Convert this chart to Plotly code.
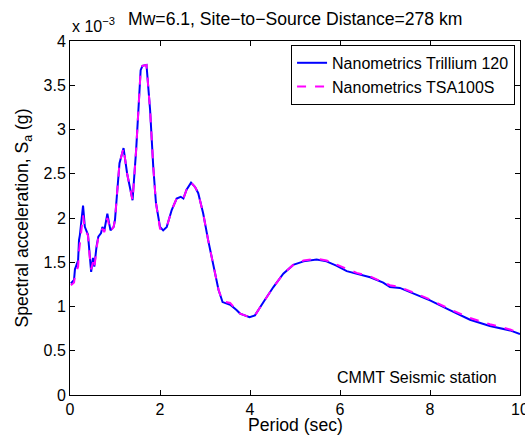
import plotly.graph_objects as go

period = [0.02, 0.09, 0.11, 0.15, 0.18, 0.20, 0.22, 0.29, 0.33, 0.40, 0.44, 0.47, 0.51, 0.54,
          0.59, 0.63, 0.69, 0.72, 0.76, 0.83, 0.87, 0.90, 0.97, 1.00, 1.04, 1.10, 1.19, 1.27,
          1.39, 1.47, 1.57, 1.61, 1.70, 1.78, 1.85, 1.91, 2.00, 2.07, 2.15, 2.26, 2.37, 2.46,
          2.52, 2.59, 2.69, 2.78, 2.85, 2.96, 3.07, 3.19, 3.30, 3.39, 3.56, 3.70, 3.78, 3.99,
          4.11, 4.30, 4.52, 4.74, 4.96, 5.19, 5.48, 5.70, 5.93, 6.15, 6.37, 6.67, 6.96, 7.11,
          7.33, 7.56, 8.00, 8.44, 8.89, 9.33, 9.78, 10.0]

# Spectral acceleration in units of 1e-3 g
trillium = [1.26, 1.30, 1.42, 1.47, 1.52, 1.75, 1.81, 2.14, 1.90, 1.81, 1.56, 1.39, 1.55, 1.45,
            1.68, 1.79, 1.83, 1.90, 1.85, 2.05, 1.94, 1.86, 1.90, 1.98, 2.24, 2.62, 2.79, 2.50,
            2.20, 2.77, 3.67, 3.72, 3.73, 3.22, 2.58, 2.17, 1.90, 1.86, 1.90, 2.09, 2.22, 2.24,
            2.22, 2.32, 2.40, 2.35, 2.28, 2.05, 1.75, 1.45, 1.19, 1.05, 1.02, 0.96, 0.92, 0.88,
            0.90, 1.05, 1.22, 1.37, 1.47, 1.51, 1.53, 1.51, 1.46, 1.40, 1.37, 1.33, 1.27, 1.22,
            1.21, 1.16, 1.07, 0.96, 0.85, 0.78, 0.73, 0.69]

tsa100s = [1.24, 1.27, 1.35, 1.40, 1.45, 1.62, 1.70, 2.03, 1.88, 1.80, 1.55, 1.42, 1.50, 1.43,
           1.66, 1.78, 1.83, 1.88, 1.84, 2.00, 1.92, 1.85, 1.90, 1.98, 2.24, 2.62, 2.79, 2.50,
           2.20, 2.77, 3.67, 3.72, 3.73, 3.22, 2.58, 2.17, 1.88, 1.87, 1.90, 2.09, 2.22, 2.24,
           2.22, 2.32, 2.40, 2.35, 2.28, 2.05, 1.75, 1.45, 1.19, 1.06, 1.04, 0.96, 0.92, 0.88,
           0.90, 1.05, 1.22, 1.37, 1.47, 1.52, 1.54, 1.52, 1.47, 1.42, 1.38, 1.34, 1.28, 1.24,
           1.22, 1.17, 1.08, 0.97, 0.87, 0.80, 0.74, 0.70]

x_ticks = [0, 2, 4, 6, 8, 10]
y_ticks = [0, 0.5, 1, 1.5, 2, 2.5, 3, 3.5, 4]
y_tick_labels = ["0", "0.5", "1", "1.5", "2", "2.5", "3", "3.5", "4"]

FONT = "Liberation Sans, Arial, sans-serif"

fig = go.Figure()
fig.add_trace(go.Scatter(x=period, y=trillium, mode="lines", name="Nanometrics Trillium 120",
                         line=dict(color="#0000FF", width=2)))
fig.add_trace(go.Scatter(x=period, y=tsa100s, mode="lines", name="Nanometrics TSA100S",
                         line=dict(color="#FF00FF", width=2, dash="dash")))

axis_common = dict(showline=True, linecolor="black", linewidth=1, mirror="ticks",
                   ticks="inside", ticklen=5, tickcolor="black", showgrid=False,
                   zeroline=False, automargin=False, ticklabeloverflow="allow",
                   tickfont=dict(family=FONT, size=16, color="black"))

fig.update_layout(
    width=525, height=435,
    margin=dict(l=70, r=5, t=41, b=40),
    paper_bgcolor="white", plot_bgcolor="white",
    font=dict(family=FONT, size=16, color="black"),
    showlegend=True,
    legend=dict(x=0.989, y=0.989, xanchor="right", yanchor="top",
                bgcolor="white", bordercolor="black", borderwidth=1,
                font=dict(family=FONT, size=16), tracegroupgap=0,
                itemwidth=30),
    xaxis=dict(range=[0, 10], tickvals=x_ticks, **axis_common),
    yaxis=dict(range=[0, 4], tickvals=y_ticks, ticktext=y_tick_labels, **axis_common,
               title=dict(text="Spectral acceleration, S<sub>a</sub> (g)", font=dict(size=17.6), standoff=10)),
    annotations=[
        dict(text="Mw=6.1, Site\u2212to\u2212Source Distance=278 km", xref="paper", yref="paper",
             x=0.5, y=1.0, yshift=10, xanchor="center", yanchor="bottom", showarrow=False,
             font=dict(family=FONT, size=17.6)),
        dict(text="x 10<sup>\u22123</sup>", xref="paper", yref="paper", x=0.0, y=1.0,
             xanchor="left", yanchor="bottom", showarrow=False, yshift=4,
             font=dict(family=FONT, size=16)),
        dict(text="CMMT Seismic station", xref="paper", yref="paper", x=0.953, y=0.02,
             xanchor="right", yanchor="bottom", showarrow=False,
             font=dict(family=FONT, size=16)),
        dict(text="Period (sec)", xref="paper", yref="paper", x=0.5, y=0.0,
             xanchor="center", yanchor="top", yshift=-18, showarrow=False,
             font=dict(family=FONT, size=17.6)),
    ],
)

fig.write_html("out.html")
